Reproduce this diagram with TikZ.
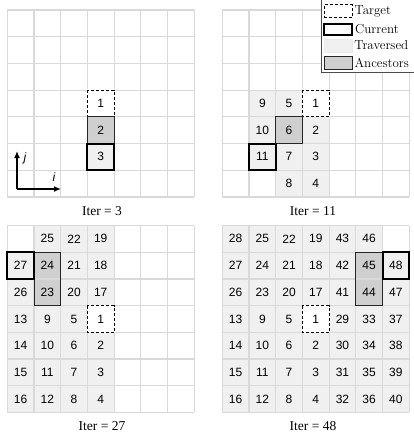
\documentclass[tikz,border=0pt]{standalone}
\usepackage{fontspec}
\newfontfamily\numfont{Liberation Sans}
\newfontfamily\iterfont{Liberation Serif}
\usetikzlibrary{arrows.meta,positioning}
\begin{document}
\begin{tikzpicture}[x=1pt,y=-1pt,
 grid/.style={draw=black!15,line width=1.2pt},
 trv/.style={fill=black!6},
 anc/.style={fill=black!19},
 ancline/.style={draw=black!85,line width=.9pt},
 tgt/.style={draw=black,fill=white,line width=.9pt,dash pattern=on 3pt off 2pt,preaction={draw=white,solid,line width=1.3pt}},
 cur/.style={draw=black,line width=2pt},
 num/.style={font=\numfont\fontsize{12}{14}\selectfont,inner sep=0pt},
 iter/.style={font=\iterfont\fontsize{13.5}{15}\selectfont},
 leg/.style={font=\fontsize{13}{15}\selectfont,anchor=west,inner sep=0pt},
 swatch/.style={minimum width=28pt,minimum height=13pt,inner sep=0pt}]
\useasboundingbox (0,0) rectangle (413,439);
\begin{scope}[shift={(7.3pt,-10pt)},x=26.7pt,y=-26.7pt]
\foreach \c/\r/\n in {3/4/2,3/5/3}{\fill[trv] (\c,\r) rectangle ++(1,1);}
\fill[anc] (3,4) rectangle (4,5);
\foreach \k in {0,...,7}{\draw[grid] (\k,0)--(\k,7);\draw[grid] (0,\k)--(7,\k);}
\draw[tgt] (3,3) rectangle (4,4);\draw[ancline] (3,4) rectangle (4,5);\draw[cur] (3,5) rectangle (4,6);
\foreach \c/\r/\n in {3/3/1,3/4/2,3/5/3}{\node[num] (a\n) at (\c+.5,\r+.5) {\n};}
\end{scope}
\coordinate (o) at (17,189);\coordinate (jend) at (17,151);\coordinate (iend) at (61,189);
\draw[line width=1.4pt,-{Latex[length=7pt,width=6pt]}] (o) -- (jend);\draw[line width=1.4pt,-{Latex[length=7pt,width=6pt]}] (o) -- (iend);
\node[font=\numfont\itshape\fontsize{12}{14}\selectfont] (jlab) at (25,158) {j};\node[font=\numfont\itshape\fontsize{12}{14}\selectfont] (ilab) at (54,177) {i};
\node[iter] (iter1) at (102,211) {Iter = 3};
\begin{scope}[shift={(222.3pt,-10pt)},x=26.7pt,y=-26.7pt]
\foreach \c/\r/\n in {3/3/1,3/4/2,3/5/3,3/6/4,2/3/5,2/4/6,2/5/7,2/6/8,1/3/9,1/4/10,1/5/11}{\fill[trv] (\c,\r) rectangle ++(1,1);}
\fill[anc] (2,4) rectangle (3,5);
\foreach \k in {0,...,7}{\draw[grid] (\k,0)--(\k,7);\draw[grid] (0,\k)--(7,\k);}
\draw[tgt] (3,3) rectangle (4,4);\draw[ancline] (2,4) rectangle (3,5);\draw[cur] (1,5) rectangle (2,6);
\foreach \c/\r/\n in {3/3/1,3/4/2,3/5/3,3/6/4,2/3/5,2/4/6,2/5/7,2/6/8,1/3/9,1/4/10,1/5/11}{\node[num] (b\n) at (\c+.5,\r+.5) {\n};}
\end{scope}
\node[iter] (iter2) at (313,211) {Iter = 11};
\begin{scope}[shift={(7.3pt,-225.5pt)},x=26.7pt,y=-26.7pt]
\foreach \c/\r/\n in {1/0/25,2/0/22,3/0/19,0/1/27,1/1/24,2/1/21,3/1/18,0/2/26,1/2/23,2/2/20,3/2/17,0/3/13,1/3/9,2/3/5,3/3/1,0/4/14,1/4/10,2/4/6,3/4/2,0/5/15,1/5/11,2/5/7,3/5/3,0/6/16,1/6/12,2/6/8,3/6/4}{\fill[trv] (\c,\r) rectangle ++(1,1);\node[num] (c\n) at (\c+.5,\r+.5) {};}
\fill[anc] (1,1) rectangle (2,3);
\foreach \k in {0,...,7}{\draw[grid] (\k,0)--(\k,7);\draw[grid] (0,\k)--(7,\k);}
\draw[tgt] (3,3) rectangle (4,4);\draw[ancline] (1,1) rectangle (2,3);\draw[cur] (0,1) rectangle (1,2);
\foreach \c/\r/\n in {1/0/25,2/0/22,3/0/19,0/1/27,1/1/24,2/1/21,3/1/18,0/2/26,1/2/23,2/2/20,3/2/17,0/3/13,1/3/9,2/3/5,3/3/1,0/4/14,1/4/10,2/4/6,3/4/2,0/5/15,1/5/11,2/5/7,3/5/3,0/6/16,1/6/12,2/6/8,3/6/4}{\node[num] at (c\n) {\n};}
\end{scope}
\node[iter] (iter3) at (102,426) {Iter = 27};
\begin{scope}[shift={(222.3pt,-225.5pt)},x=26.7pt,y=-26.7pt]
\foreach \c/\r/\n in {0/0/28,1/0/25,2/0/22,3/0/19,4/0/43,5/0/46,0/1/27,1/1/24,2/1/21,3/1/18,4/1/42,5/1/45,6/1/48,0/2/26,1/2/23,2/2/20,3/2/17,4/2/41,5/2/44,6/2/47,0/3/13,1/3/9,2/3/5,3/3/1,4/3/29,5/3/33,6/3/37,0/4/14,1/4/10,2/4/6,3/4/2,4/4/30,5/4/34,6/4/38,0/5/15,1/5/11,2/5/7,3/5/3,4/5/31,5/5/35,6/5/39,0/6/16,1/6/12,2/6/8,3/6/4,4/6/32,5/6/36,6/6/40}{\fill[trv] (\c,\r) rectangle ++(1,1);\node[num] (d\n) at (\c+.5,\r+.5) {};}
\fill[anc] (5,1) rectangle (6,3);
\foreach \k in {0,...,7}{\draw[grid] (\k,0)--(\k,7);\draw[grid] (0,\k)--(7,\k);}
\draw[tgt] (3,3) rectangle (4,4);\draw[ancline] (5,1) rectangle (6,3);\draw[cur] (6,1) rectangle (7,2);
\foreach \c/\r/\n in {0/0/28,1/0/25,2/0/22,3/0/19,4/0/43,5/0/46,0/1/27,1/1/24,2/1/21,3/1/18,4/1/42,5/1/45,6/1/48,0/2/26,1/2/23,2/2/20,3/2/17,4/2/41,5/2/44,6/2/47,0/3/13,1/3/9,2/3/5,3/3/1,4/3/29,5/3/33,6/3/37,0/4/14,1/4/10,2/4/6,3/4/2,4/4/30,5/4/34,6/4/38,0/5/15,1/5/11,2/5/7,3/5/3,4/5/31,5/5/35,6/5/39,0/6/16,1/6/12,2/6/8,3/6/4,4/6/32,5/6/36,6/6/40}{\node[num] at (d\n) {\n};}
\end{scope}
\node[iter] (iter4) at (313,426) {Iter = 48};
\draw[draw=black!70,fill=white,line width=.6pt] (321,-3) rectangle (416,72);
\node[swatch,tgt] (stgt) at (338,11) {};\node[leg,right=2pt of stgt] (ltgt) {Target};
\node[swatch,cur,minimum height=11pt] (scur) at (338,29) {};\node[leg,right=2pt of scur] (lcur) {Current};
\node[swatch,fill=black!6,draw=black!8] (strv) at (338,45.5) {};\node[leg,right=2pt of strv] (ltrv) {Traversed};
\node[swatch,anc,draw=black!85,line width=.9pt] (sanc) at (338,62.5) {};\node[leg,right=2pt of sanc] (lanc) {Ancestors};
\end{tikzpicture}
\end{document}
